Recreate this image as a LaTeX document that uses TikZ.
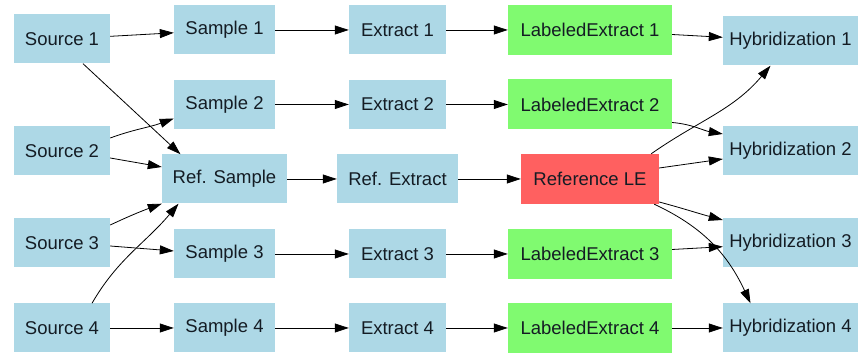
\documentclass[tikz,border=0pt]{standalone}
\usepackage{fontspec}
\setmainfont{Liberation Sans}
\usetikzlibrary{arrows.meta}

\definecolor{boxblue}{RGB}{173,216,230}
\definecolor{boxgreen}{RGB}{128,250,112}
\definecolor{boxred}{RGB}{255,96,96}
\definecolor{ink}{RGB}{20,28,36}

\begin{document}
\begin{tikzpicture}[x=1pt, y=1pt,
    >={Triangle[length=14pt,width=9pt]},
    every node/.append style={align=center, text=ink,
      font=\fontsize{18.5}{20}\selectfont},
    blk/.style={fill=boxblue, inner sep=0pt, minimum height=49pt},
    lbl/.style={fill=boxgreen, inner sep=0pt, minimum height=50pt, minimum width=164pt},
    refl/.style={fill=boxred, inner sep=0pt, minimum height=50pt, minimum width=138pt},
    src/.style={blk, minimum width=96pt},
    smp/.style={blk, minimum width=101pt},
    ext/.style={blk, minimum width=97pt},
    hyb/.style={blk, minimum width=135pt}]
   \useasboundingbox (0,0) rectangle (860,355);

   \node [src] (S1) at (62,316) {Source 1};
   \node [src] (S2) at (62,204) {Source 2};
   \node [src] (S3) at (62,112) {Source 3};
   \node [src] (S4) at (62,27)  {Source 4};

   \node [smp] (Sam1) at (224.5,325)   {Sample 1};
   \node [smp] (Sam2) at (224.5,250.5) {Sample 2};
   \node [blk, minimum width=125pt] (RefS) at (224.5,176) {Ref. Sample};
   \node [smp] (Sam3) at (224.5,101)   {Sample 3};
   \node [smp] (Sam4) at (224.5,27)    {Sample 4};

   \node [ext] (E1) at (397.5,325)   {Extract 1};
   \node [ext] (E2) at (397.5,250.5) {Extract 2};
   \node [blk, minimum width=121pt] (RefE) at (397.5,176) {Ref. Extract};
   \node [ext] (E3) at (397.5,101)   {Extract 3};
   \node [ext] (E4) at (397.5,27)    {Extract 4};

   \node [lbl] (LE1) at (590,325)   {LabeledExtract 1};
   \node [lbl] (LE2) at (590,250.5) {LabeledExtract 2};
   \node [refl] (RefLE) at (590,176) {Reference LE};
   \node [lbl] (LE3) at (590,101)   {LabeledExtract 3};
   \node [lbl] (LE4) at (590,27)    {LabeledExtract 4};

   \node [hyb] (H1) at (790.5,314) {Hybridization 1};
   \node [hyb] (H2) at (790.5,204) {Hybridization 2};
   \node [hyb] (H3) at (790.5,112) {Hybridization 3};
   \node [hyb] (H4) at (790.5,27)  {Hybridization 4};

   \path[->, line width=0.8pt] (S1) edge (Sam1)
   ([xshift=21pt]S1.south) edge ([xshift=-44pt]RefS.north)
   ([yshift=13pt]S2.east) edge[out=20, in=200] ([yshift=-14pt]Sam2.west)
   ([yshift=-7pt]S2.east) edge ([yshift=12pt]RefS.west)
   ([yshift=18pt]S3.east) edge[out=25, in=200] (RefS.south west)
   ([yshift=-3pt]S3.east) edge ([yshift=3pt]Sam3.west)
   ([xshift=30pt]S4.north) edge[out=60, in=230] ([xshift=-46pt]RefS.south)
   (S4) edge (Sam4)
   (Sam1) edge (E1)
   (Sam2) edge (E2)
   (RefS) edge (RefE)
   (Sam3) edge (E3)
   (Sam4) edge (E4)
   (E1) edge (LE1)
   (E2) edge (LE2)
   (RefE) edge (RefLE)
   (E3) edge (LE3)
   (E4) edge (LE4)
   (LE1) edge (H1)
   ([yshift=-18pt]LE2.east) edge[out=-5, in=170] ([yshift=17pt]H2.west)
   ([xshift=-8pt]RefLE.north east) edge[out=35, in=230] ([xshift=-20pt]H1.south)
   ([yshift=11pt]RefLE.east) edge ([yshift=-8pt]H2.west)
   ([yshift=-23pt]RefLE.east) edge[out=-15, in=165] ([yshift=23pt]H3.west)
   ([xshift=-5pt]RefLE.south east) edge[out=-25, in=115] ([xshift=-40pt]H4.north)
   (LE3) edge (H3)
   (LE4) edge (H4);
\end{tikzpicture}
\end{document}
